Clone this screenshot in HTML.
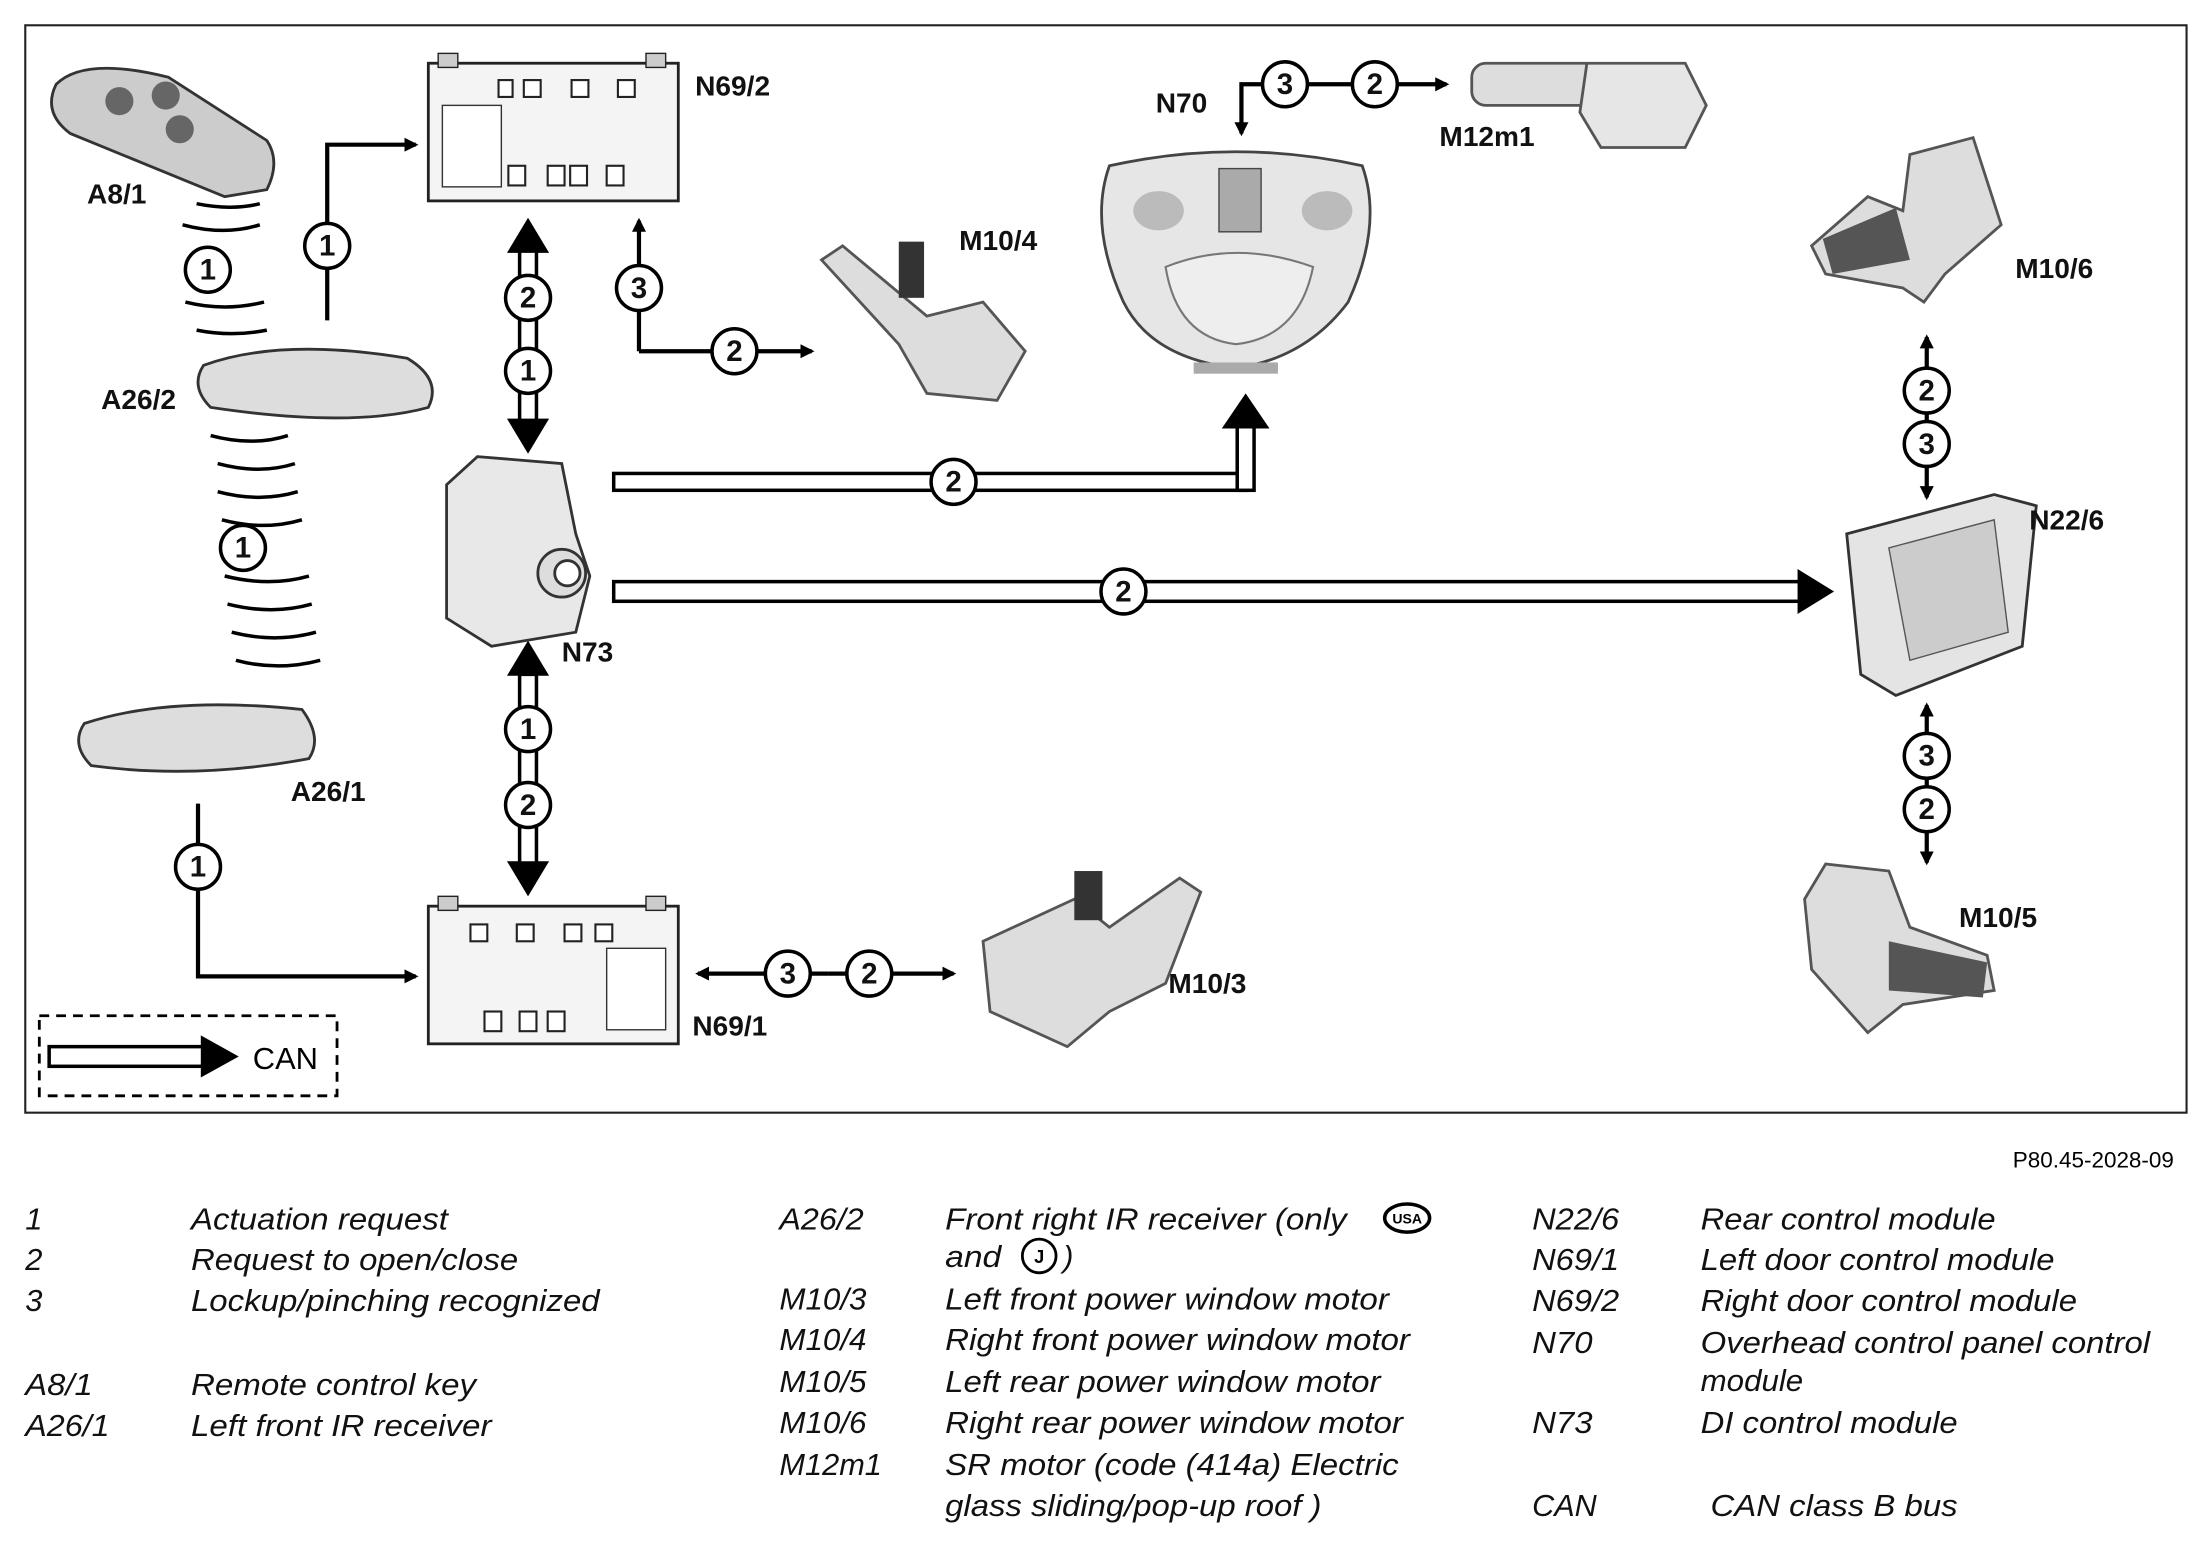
<!DOCTYPE html>
<html><head><meta charset="utf-8"><style>
html,body{margin:0;padding:0;background:#fff}
svg{display:block}
.l{font-family:"Liberation Sans",sans-serif;font-weight:bold;font-size:20px;fill:#111}
.g{font-family:"Liberation Sans",sans-serif;font-style:italic;font-size:22px;fill:#111}
.c{font-family:"Liberation Sans",sans-serif;font-size:21px;font-weight:bold;fill:#111}
</style></head><body>
<svg width="2202" height="1551" viewBox="0 0 1568 1104" preserveAspectRatio="none" xmlns="http://www.w3.org/2000/svg">
<defs>
<marker id="ah" markerWidth="10" markerHeight="10" refX="8" refY="5" orient="auto" markerUnits="userSpaceOnUse"><path d="M0,0 L10,5 L0,10 z" fill="#000"/></marker>
<g id="ci"><circle r="16" fill="#fff" stroke="#000" stroke-width="2.5"/></g>
</defs>
<rect x="18" y="18" width="1539" height="774" fill="#fff" stroke="#222" stroke-width="1.5"/>

<path d="M40,60 Q60,40 120,55 L190,100 Q200,115 190,135 L160,140 L50,95 Q30,80 40,60z" fill="#ccc" stroke="#333" stroke-width="2"/>
<circle cx="85" cy="72" r="10" fill="#666"/><circle cx="118" cy="68" r="10" fill="#666"/><circle cx="128" cy="92" r="10" fill="#666"/>
<text class="l" x="62" y="145">A8/1</text>
<g fill="none" stroke="#000" stroke-width="2.5">
<path d="M130,160 Q160,168 185,160"/><path d="M132,215 Q160,222 188,215"/><path d="M140,235 Q165,240 190,235"/>
<path d="M150,310 Q180,318 205,310"/><path d="M155,330 Q185,338 210,330"/><path d="M155,350 Q185,358 212,350"/>
<path d="M158,370 Q188,378 215,370"/><path d="M160,410 Q192,418 220,410"/><path d="M162,430 Q194,438 222,430"/>
<path d="M165,450 Q196,458 225,450"/><path d="M168,470 Q198,478 228,470"/><path d="M140,145 Q165,150 185,145"/>
</g>
<use href="#ci" x="148" y="192"/><text class="c" x="148" y="199" text-anchor="middle">1</text>
<use href="#ci" x="173" y="390"/><text class="c" x="173" y="397" text-anchor="middle">1</text>
<path d="M145,260 Q200,240 290,255 Q315,270 305,290 Q250,305 150,290 Q135,275 145,260z" fill="#ddd" stroke="#333" stroke-width="2"/>
<text class="l" x="72" y="291">A26/2</text>
<path d="M60,515 Q120,495 215,505 Q230,525 220,540 Q140,555 65,545 Q50,530 60,515z" fill="#ddd" stroke="#333" stroke-width="2"/>
<text class="l" x="207" y="570">A26/1</text>

<g fill="none" stroke="#000" stroke-width="3">
<path d="M233,228 V103 H296" marker-end="url(#ah)"/>
<path d="M141,572 V695 H296" marker-end="url(#ah)"/>
<path d="M455,250 V157" marker-end="url(#ah)"/>
<path d="M455,250 H578" marker-end="url(#ah)"/>
<path d="M905,60 H884 V95" marker-end="url(#ah)"/>
<path d="M905,60 H1030" marker-end="url(#ah)"/>
<path d="M1372,300 V240" marker-end="url(#ah)"/>
<path d="M1372,300 V354" marker-end="url(#ah)"/>
<path d="M1372,560 V502" marker-end="url(#ah)"/>
<path d="M1372,560 V614" marker-end="url(#ah)"/>
<path d="M590,693 H497" marker-end="url(#ah)"/>
<path d="M590,693 H679" marker-end="url(#ah)"/>
</g>
<use href="#ci" x="233" y="175"/><text class="c" x="233" y="182" text-anchor="middle">1</text>
<use href="#ci" x="141" y="617"/><text class="c" x="141" y="624" text-anchor="middle">1</text>
<use href="#ci" x="455" y="205"/><text class="c" x="455" y="212" text-anchor="middle">3</text>
<use href="#ci" x="523" y="250"/><text class="c" x="523" y="257" text-anchor="middle">2</text>
<use href="#ci" x="915" y="60"/><text class="c" x="915" y="67" text-anchor="middle">3</text>
<use href="#ci" x="979" y="60"/><text class="c" x="979" y="67" text-anchor="middle">2</text>
<use href="#ci" x="1372" y="278"/><text class="c" x="1372" y="285" text-anchor="middle">2</text>
<use href="#ci" x="1372" y="316"/><text class="c" x="1372" y="323" text-anchor="middle">3</text>
<use href="#ci" x="1372" y="538"/><text class="c" x="1372" y="545" text-anchor="middle">3</text>
<use href="#ci" x="1372" y="576"/><text class="c" x="1372" y="583" text-anchor="middle">2</text>
<use href="#ci" x="561" y="693"/><text class="c" x="561" y="700" text-anchor="middle">3</text>
<use href="#ci" x="619" y="693"/><text class="c" x="619" y="700" text-anchor="middle">2</text>

<rect x="305" y="45" width="178" height="98" fill="#f4f4f4" stroke="#222" stroke-width="2"/>
<rect x="312" y="38" width="14" height="10" fill="#ccc" stroke="#222"/><rect x="460" y="38" width="14" height="10" fill="#ccc" stroke="#222"/>
<rect x="315" y="75" width="42" height="58" fill="#fff" stroke="#333"/>
<g fill="#fff" stroke="#222" stroke-width="1.5"><rect x="355" y="57" width="10" height="12"/><rect x="373" y="57" width="12" height="12"/><rect x="407" y="57" width="12" height="12"/><rect x="440" y="57" width="12" height="12"/>
<rect x="362" y="118" width="12" height="14"/><rect x="390" y="118" width="12" height="14"/><rect x="406" y="118" width="12" height="14"/><rect x="432" y="118" width="12" height="14"/></g>
<text class="l" x="495" y="68">N69/2</text>
<rect x="305" y="645" width="178" height="98" fill="#f4f4f4" stroke="#222" stroke-width="2"/>
<rect x="312" y="638" width="14" height="10" fill="#ccc" stroke="#222"/><rect x="460" y="638" width="14" height="10" fill="#ccc" stroke="#222"/>
<rect x="432" y="675" width="42" height="58" fill="#fff" stroke="#333"/>
<g fill="#fff" stroke="#222" stroke-width="1.5"><rect x="335" y="658" width="12" height="12"/><rect x="368" y="658" width="12" height="12"/><rect x="402" y="658" width="12" height="12"/><rect x="424" y="658" width="12" height="12"/>
<rect x="345" y="720" width="12" height="14"/><rect x="370" y="720" width="12" height="14"/><rect x="390" y="720" width="12" height="14"/></g>
<text class="l" x="493" y="737">N69/1</text>

<g fill="#fff" stroke="#000" stroke-width="2.5">
<rect x="370" y="178" width="12" height="122"/>
<rect x="370" y="480" width="12" height="136"/>
<rect x="437" y="337" width="450" height="12"/>
<rect x="881" y="303" width="12" height="46"/>
<rect x="437" y="414" width="845" height="14"/>
<rect x="35" y="745" width="110" height="14"/>
</g>
<rect x="883" y="330" width="8" height="17" fill="#fff"/>
<g fill="#000">
<path d="M376,155 L361,180 L391,180z"/><path d="M376,323 L361,298 L391,298z"/>
<path d="M376,456 L361,481 L391,481z"/><path d="M376,638 L361,613 L391,613z"/>
<path d="M887,280 L870,305 L904,305z"/>
<path d="M1306,421 L1280,405 L1280,437z"/>
<path d="M170,752 L143,737 L143,767z"/>
</g>
<use href="#ci" x="376" y="212"/><text class="c" x="376" y="219" text-anchor="middle">2</text>
<use href="#ci" x="376" y="264"/><text class="c" x="376" y="271" text-anchor="middle">1</text>
<use href="#ci" x="376" y="519"/><text class="c" x="376" y="526" text-anchor="middle">1</text>
<use href="#ci" x="376" y="573"/><text class="c" x="376" y="580" text-anchor="middle">2</text>
<use href="#ci" x="679" y="343"/><text class="c" x="679" y="350" text-anchor="middle">2</text>
<use href="#ci" x="800" y="421"/><text class="c" x="800" y="428" text-anchor="middle">2</text>

<path d="M340,325 L400,330 L410,380 L420,410 L410,450 L350,460 L318,440 L318,345z" fill="#e8e8e8" stroke="#333" stroke-width="2"/>
<circle cx="400" cy="408" r="17" fill="#ddd" stroke="#333" stroke-width="2"/><circle cx="404" cy="408" r="9" fill="#fff" stroke="#333" stroke-width="2"/>
<text class="l" x="400" y="471">N73</text>

<path d="M585,185 L600,175 L660,225 L700,215 L730,250 L710,285 L660,280 L640,245 z" fill="#ddd" stroke="#555" stroke-width="2"/>
<rect x="640" y="172" width="18" height="40" fill="#333"/>
<text class="l" x="683" y="178">M10/4</text>

<path d="M790,118 Q880,98 970,118 Q985,160 960,215 Q930,255 880,262 Q820,255 800,215 Q775,160 790,118z" fill="#e6e6e6" stroke="#444" stroke-width="2"/>
<path d="M830,190 Q880,170 935,190 Q925,240 880,245 Q838,240 830,190z" fill="#eee" stroke="#777" stroke-width="1.5"/>
<rect x="868" y="120" width="30" height="45" fill="#aaa" stroke="#444"/>
<ellipse cx="825" cy="150" rx="18" ry="14" fill="#bbb"/><ellipse cx="945" cy="150" rx="18" ry="14" fill="#bbb"/>
<rect x="850" y="258" width="60" height="8" fill="#aaa"/>
<text class="l" x="823" y="80">N70</text>

<rect x="1048" y="45" width="90" height="30" rx="10" fill="#ddd" stroke="#555" stroke-width="2"/>
<path d="M1130,45 L1200,45 L1215,75 L1200,105 L1140,105 L1125,80z" fill="#e6e6e6" stroke="#555" stroke-width="2"/>
<text class="l" x="1025" y="104">M12m1</text>

<path d="M1290,175 L1330,140 L1355,150 L1360,110 L1405,98 L1425,160 L1385,195 L1370,215 L1355,205 L1300,195z" fill="#ddd" stroke="#555" stroke-width="2"/>
<path d="M1298,170 L1350,148 L1360,185 L1305,195z" fill="#555"/>
<text class="l" x="1435" y="198">M10/6</text>
<path d="M1315,380 L1420,352 L1450,360 L1440,460 L1350,495 L1325,480z" fill="#e4e4e4" stroke="#333" stroke-width="2"/>
<path d="M1345,390 L1420,370 L1430,450 L1360,470z" fill="#ccc" stroke="#555"/>
<text class="l" x="1445" y="377">N22/6</text>
<path d="M1285,640 L1300,615 L1345,620 L1360,660 L1415,680 L1420,705 L1355,715 L1330,735 L1290,690z" fill="#ddd" stroke="#555" stroke-width="2"/>
<path d="M1345,670 L1415,685 L1412,710 L1345,705z" fill="#555"/>
<text class="l" x="1395" y="660">M10/5</text>
<path d="M700,670 L765,640 L790,660 L840,625 L855,635 L830,700 L790,720 L760,745 L705,720z" fill="#ddd" stroke="#555" stroke-width="2"/>
<rect x="765" y="620" width="20" height="35" fill="#333"/>
<text class="l" x="832" y="707">M10/3</text>

<rect x="28" y="723" width="212" height="57" fill="none" stroke="#000" stroke-width="2" stroke-dasharray="7,5"/>
<text x="180" y="761" style="font-family:'Liberation Sans',sans-serif;font-size:22px">CAN</text>

<text x="1548" y="831" text-anchor="end" style="font-family:'Liberation Sans',sans-serif;font-size:16px">P80.45-2028-09</text>

<g class="g">
<text x="18" y="875">1</text><text x="136" y="875" textLength="183" lengthAdjust="spacingAndGlyphs">Actuation request</text>
<text x="18" y="904">2</text><text x="136" y="904" textLength="233" lengthAdjust="spacingAndGlyphs">Request to open/close</text>
<text x="18" y="933">3</text><text x="136" y="933" textLength="291" lengthAdjust="spacingAndGlyphs">Lockup/pinching recognized</text>
<text x="18" y="993" textLength="48" lengthAdjust="spacingAndGlyphs">A8/1</text><text x="136" y="993" textLength="203" lengthAdjust="spacingAndGlyphs">Remote control key</text>
<text x="18" y="1022" textLength="60" lengthAdjust="spacingAndGlyphs">A26/1</text><text x="136" y="1022" textLength="214" lengthAdjust="spacingAndGlyphs">Left front IR receiver</text>

<text x="555" y="875" textLength="60" lengthAdjust="spacingAndGlyphs">A26/2</text><text x="673" y="875" textLength="286" lengthAdjust="spacingAndGlyphs">Front right IR receiver (only</text>
<text x="673" y="902" textLength="40" lengthAdjust="spacingAndGlyphs">and</text><text x="757" y="902">)</text>
<text x="555" y="932" textLength="62" lengthAdjust="spacingAndGlyphs">M10/3</text><text x="673" y="932" textLength="316" lengthAdjust="spacingAndGlyphs">Left front power window motor</text>
<text x="555" y="961" textLength="62" lengthAdjust="spacingAndGlyphs">M10/4</text><text x="673" y="961" textLength="331" lengthAdjust="spacingAndGlyphs">Right front power window motor</text>
<text x="555" y="991" textLength="62" lengthAdjust="spacingAndGlyphs">M10/5</text><text x="673" y="991" textLength="310" lengthAdjust="spacingAndGlyphs">Left rear power window motor</text>
<text x="555" y="1020" textLength="62" lengthAdjust="spacingAndGlyphs">M10/6</text><text x="673" y="1020" textLength="326" lengthAdjust="spacingAndGlyphs">Right rear power window motor</text>
<text x="555" y="1050" textLength="73" lengthAdjust="spacingAndGlyphs">M12m1</text><text x="673" y="1050" textLength="323" lengthAdjust="spacingAndGlyphs">SR motor (code (414a) Electric</text>
<text x="673" y="1079" textLength="268" lengthAdjust="spacingAndGlyphs">glass sliding/pop-up roof )</text>

<text x="1091" y="875" textLength="62" lengthAdjust="spacingAndGlyphs">N22/6</text><text x="1211" y="875" textLength="210" lengthAdjust="spacingAndGlyphs">Rear control module</text>
<text x="1091" y="904" textLength="62" lengthAdjust="spacingAndGlyphs">N69/1</text><text x="1211" y="904" textLength="252" lengthAdjust="spacingAndGlyphs">Left door control module</text>
<text x="1091" y="933" textLength="62" lengthAdjust="spacingAndGlyphs">N69/2</text><text x="1211" y="933" textLength="268" lengthAdjust="spacingAndGlyphs">Right door control module</text>
<text x="1091" y="963" textLength="43" lengthAdjust="spacingAndGlyphs">N70</text><text x="1211" y="963" textLength="320" lengthAdjust="spacingAndGlyphs">Overhead control panel control</text>
<text x="1211" y="990" textLength="73" lengthAdjust="spacingAndGlyphs">module</text>
<text x="1091" y="1020" textLength="43" lengthAdjust="spacingAndGlyphs">N73</text><text x="1211" y="1020" textLength="183" lengthAdjust="spacingAndGlyphs">DI control module</text>
<text x="1091" y="1079" textLength="46" lengthAdjust="spacingAndGlyphs">CAN</text><text x="1218" y="1079" textLength="176" lengthAdjust="spacingAndGlyphs">CAN class B bus</text>
</g>
<circle cx="740" cy="894" r="12" fill="#fff" stroke="#000" stroke-width="2"/>
<text x="740" y="899" text-anchor="middle" style="font-family:'Liberation Sans',sans-serif;font-weight:bold;font-size:13px">J</text>
<ellipse cx="1002" cy="867" rx="16" ry="10" fill="#fff" stroke="#000" stroke-width="2.5"/>
<text x="1002" y="871" text-anchor="middle" style="font-family:'Liberation Sans',sans-serif;font-weight:bold;font-size:10px">USA</text>
</svg>
</body></html>
